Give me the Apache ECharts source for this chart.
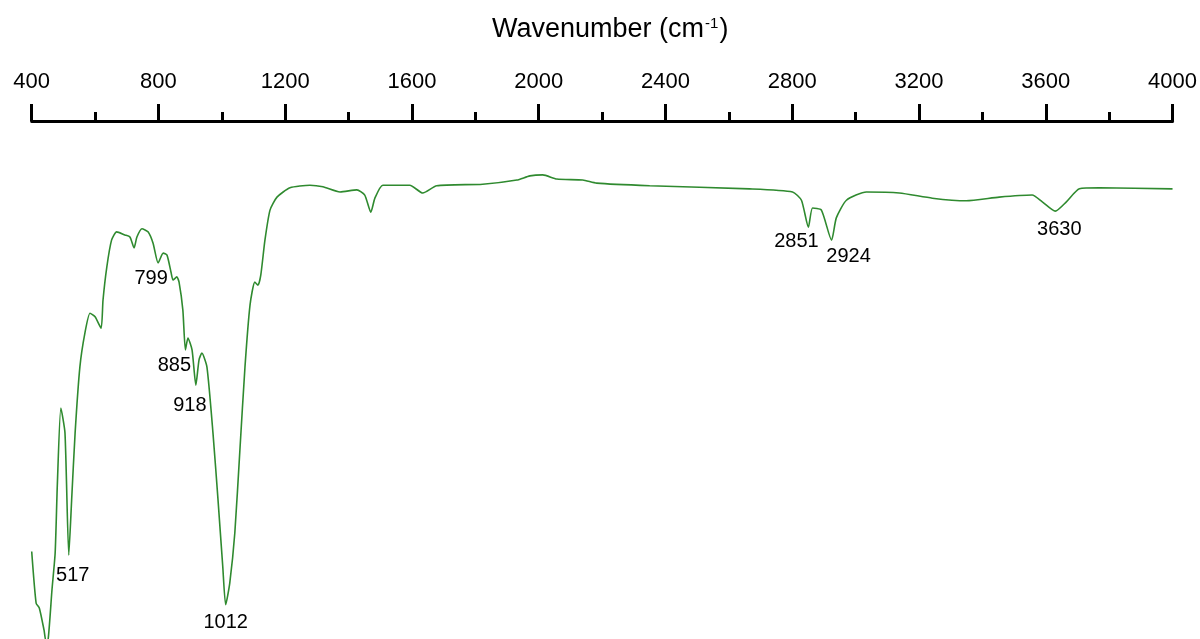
<!DOCTYPE html>
<html>
<head>
<meta charset="utf-8">
<script src="https://cdn.jsdelivr.net/npm/echarts@6/dist/echarts.min.js"></script>
<style>
  html, body { margin: 0; padding: 0; background: #fff; }
  #ori { width: 1200px; height: 639px; }
</style>
</head>
<body>
<div id="ori"></div>
<script>
// spectrum (wavenumber in cm-1, transmittance in arbitrary %)
var wavenumber = [400, 414, 424, 439, 445, 452, 464, 474, 481, 492, 505, 517, 526, 537, 552, 568, 584, 600, 619, 625, 637, 652, 668, 694, 710, 723, 732, 748, 767, 783, 799, 815, 827, 840, 846, 858, 865, 877, 885, 893, 906, 918, 928, 937, 953, 972, 988, 1003, 1012, 1025, 1041, 1057, 1073, 1089, 1104, 1114, 1123, 1136, 1152, 1174, 1215, 1278, 1319, 1373, 1426, 1451, 1470, 1483, 1508, 1593, 1634, 1678, 1823, 1931, 1972, 2013, 2057, 2139, 2183, 2350, 2665, 2801, 2829, 2851, 2864, 2892, 2924, 2939, 2971, 3034, 3138, 3242, 3349, 3453, 3557, 3589, 3630, 3665, 3706, 3769, 4000];
var transmittance = [16.9, 6.9, 6.0, 1.7, -0.4, 0, 9.5, 16.6, 30.0, 44.6, 39.8, 16.2, 26.8, 39.8, 52.5, 59.1, 62.9, 62.2, 60.0, 65.4, 71.8, 77.0, 78.6, 78.0, 77.6, 75.5, 77.6, 79.2, 78.6, 76.4, 72.6, 74.5, 74.1, 70.7, 69.3, 69.9, 68.9, 63.5, 55.8, 58.1, 55.8, 49.0, 53.9, 55.2, 52.5, 39.8, 26.8, 13.9, 6.6, 10.8, 20.5, 36.5, 52.5, 64.5, 68.9, 68.3, 70.3, 77.0, 82.8, 85.3, 87.1, 87.6, 87.3, 86.3, 86.7, 85.7, 82.4, 85.1, 87.6, 87.6, 86.1, 87.5, 87.8, 88.6, 89.4, 89.6, 88.8, 88.6, 88.0, 87.5, 86.9, 86.3, 84.7, 79.5, 83.2, 82.8, 77.0, 81.3, 84.7, 86.3, 86.1, 85.1, 84.6, 85.3, 85.7, 84.4, 82.6, 84.4, 86.9, 87.1, 86.9];

// labelled bands and where their numbers sit (px, from the dip)
var peaks = [517, 799, 885, 918, 1012, 2851, 2924, 3630];
var peakOffsets = [[4, 20], [-7, 16], [-11, 16], [-6, 20], [0, 18], [-12, 14], [17, 16], [4, 18]];

var font = 'Liberation Sans, Arial, Helvetica, sans-serif';

var lineData = wavenumber.map(function (w, i) { return [w, transmittance[i]]; });

function valueAt(w) {
    return transmittance[wavenumber.indexOf(w)];
}

option = {
    animation: false,
    backgroundColor: '#fff',
    title: {
        text: 'Wavenumber (cm{sup|-1})',
        left: 487,
        top: 11,
        textStyle: {
            fontFamily: font,
            fontSize: 27,
            fontWeight: 'normal',
            color: '#000',
            rich: {
                sup: {
                    fontFamily: font,
                    fontSize: 15,
                    color: '#000',
                    verticalAlign: 'top',
                    padding: [0, 1, 0, 1]
                }
            }
        }
    },
    grid: {
        left: 31.7,
        right: 27,
        top: 121,
        bottom: 0
    },
    xAxis: {
        type: 'value',
        position: 'top',
        min: 400,
        max: 4000,
        interval: 400,
        axisLine: { onZero: false, lineStyle: { color: '#000', width: 3 } },
        axisTick: { show: true, length: 17, lineStyle: { color: '#000', width: 3 } },
        minorTick: { show: true, splitNumber: 2, length: 9, lineStyle: { color: '#000', width: 3 } },
        splitLine: { show: false },
        minorSplitLine: { show: false },
        axisLabel: {
            fontFamily: font,
            fontSize: 22,
            color: '#000',
            margin: 28,
            formatter: function (v) { return String(v); }
        }
    },
    yAxis: {
        type: 'value',
        min: 0,
        max: 100,
        show: false
    },
    series: [
        {
            type: 'line',
            data: lineData,
            showSymbol: false,
            smooth: 0.2,
            lineStyle: { color: '#2f8a2f', width: 1.6 },
            markPoint: {
                symbol: 'circle',
                symbolSize: 0,
                silent: true,
                label: {
                    show: true,
                    position: 'inside',
                    fontFamily: font,
                    fontSize: 20,
                    color: '#000',
                    formatter: function (p) { return p.name; }
                },
                data: peaks.map(function (w, i) {
                    return {
                        name: String(w),
                        coord: [w, valueAt(w)],
                        label: { offset: peakOffsets[i] }
                    };
                })
            }
        }
    ]
};

dom3 = echarts.init(document.getElementById("ori"));
dom3.setOption(option);
</script>
</body>
</html>
